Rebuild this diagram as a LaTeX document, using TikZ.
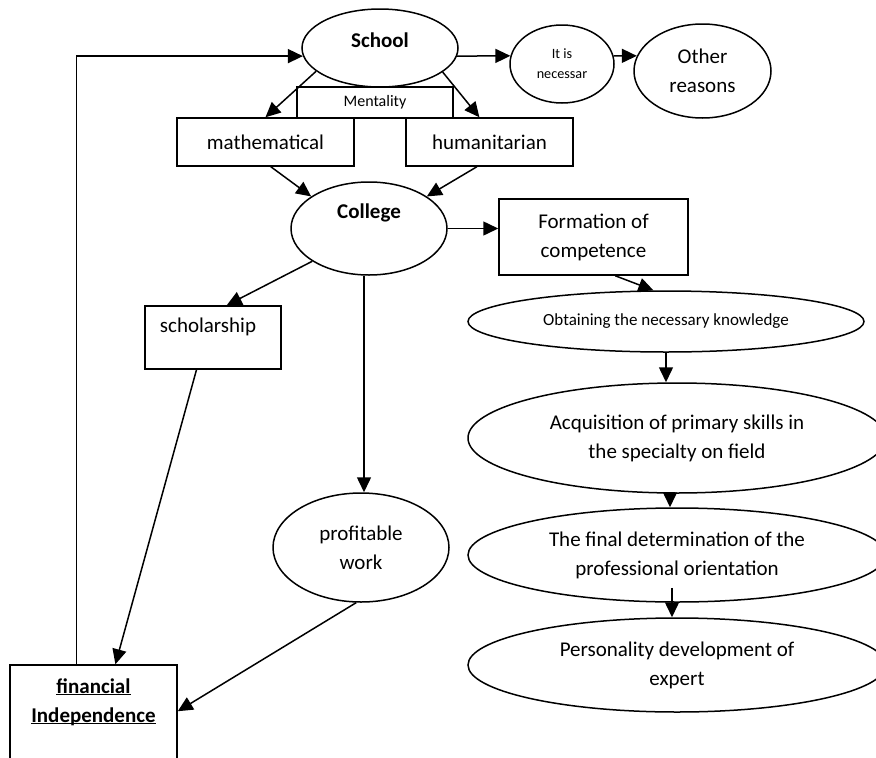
\documentclass[tikz,border=0pt]{standalone}
\usepackage{fontspec}
\setmainfont{Carlito}
\usetikzlibrary{shapes.geometric,arrows.meta,calc}
\newcommand\ulword[1]{\setbox0\hbox{#1}\rlap{\rule[-2.2pt]{\wd0}{1.1pt}}\box0}
\begin{document}
\begin{tikzpicture}[x=1pt,y=-1pt, line width=1.5pt,
 arr/.style={-{Triangle[length=15pt,width=14pt]}},
 big/.style={font=\fontsize{21}{29}\selectfont, align=center},
 oval/.style={draw, ellipse, inner sep=0pt},
 box/.style={draw, rectangle, inner sep=0pt},
]
\useasboundingbox (0,0) rectangle (876,758);
\clip (0,0) rectangle (876,758);

\node[oval, minimum width=156pt, minimum height=78pt] (school) at (380,48) {};
\node[font=\bfseries\fontsize{21}{29}\selectfont] (schoolT) at (380,40) {School};
\node[box, minimum width=156pt, minimum height=31pt, font=\fontsize{16}{19}\selectfont] (ment) at (375,102.5) {Mentality};
\node[box, big, minimum width=177pt, minimum height=48pt] (math) at (265.5,142) {mathematical};
\node[box, big, minimum width=167pt, minimum height=48pt] (hum) at (489.5,142) {humanitarian};
\node[oval, minimum width=104pt, minimum height=78pt, font=\fontsize{14.2}{20}\selectfont, align=center] (itis) at (562,64) {It is\\necessar};
\node[oval, big, minimum width=137pt, minimum height=94pt] (other) at (702.5,71) {Other\\reasons};
\node[oval, minimum width=156pt, minimum height=93pt] (college) at (369,228.5) {};
\node[font=\bfseries\fontsize{21}{29}\selectfont] (collegeT) at (369,213) {College};
\node[box, big, minimum width=189pt, minimum height=76pt] (form) at (593.5,237) {Formation of\\competence};
\node[oval, minimum width=396pt, minimum height=61pt, font=\fontsize{17}{20}\selectfont] (obtain) at (666,321.5) {Obtaining the necessary knowledge};
\node[oval, big, minimum width=418pt, minimum height=110pt] (acq) at (677,438) {Acquisition of primary skills in\\the specialty on field};
\node[oval, big, minimum width=418pt, minimum height=94pt] (final) at (677,555) {The final determination of the\\professional orientation};
\node[oval, big, minimum width=418pt, minimum height=94pt] (pers) at (677,665) {Personality development of\\expert};
\node[box, minimum width=136pt, minimum height=63pt] (schol) at (213,337.5) {};
\node[big] (scholT) at (208,327) {scholarship};
\node[oval, big, minimum width=176pt, minimum height=109pt] (profit) at (361,547.5) {profitable\\work};
\node[box, minimum width=167pt, minimum height=135pt] (fin) at (93.5,732.5) {};
\node[big, font=\bfseries\fontsize{21}{29}\selectfont] (finT) at (93.5,702) {\ulword{financial}\\\ulword{Independence}};

\draw[arr] (school.200) -- (math.north);
\draw[arr] (school.339) -- ($(hum.north west)!0.44!(hum.north east)$);
\draw[arr] (school.354) -- (itis.171);
\draw[arr] (itis.9) -- (other.167);
\coordinate (finTop) at ($(fin.north west)!0.4!(fin.north east)$);
\draw[arr] (finTop) |- (school.186);
\draw[arr] ($(math.south west)!0.53!(math.south east)$) -- (college.151);
\draw[arr] ($(hum.south west)!0.425!(hum.south east)$) -- (college.29);
\draw[arr] (college.east) -- (college.east -| form.west);
\draw[arr] ($(form.south west)!0.614!(form.south east)$) -- (obtain.112);
\draw[arr] (obtain.south) -- (obtain.south |- acq.north);
\coordinate (a2) at ($(acq.south)+(-7,0)$);
\draw[arr] (a2) -- (a2 |- final.north);
\coordinate (f2) at ($(final.south)+(-5,-15)$);
\draw[arr] (f2) -- (f2 |- pers.north);
\draw[arr] (college.210) -- ($(schol.north west)!0.6!(schol.north east)$);
\coordinate (cp) at ($(college.south)+(-5,0)$);
\draw[arr] (cp) -- (cp |- profit.north);
\draw[arr] ($(schol.south west)!0.38!(schol.south east)$) -- ($(fin.north west)!0.63!(fin.north east)$);
\draw[arr] (profit.265) -- ($(fin.north east)+(0,47)$);
\end{tikzpicture}
\end{document}
